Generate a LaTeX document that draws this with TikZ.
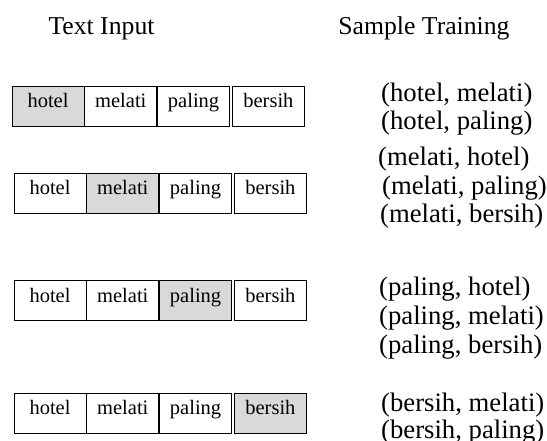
\documentclass[tikz,border=0pt]{standalone}
\usepackage{fontspec}
\setmainfont{Liberation Serif}
\usepackage{tikz}
\usetikzlibrary{positioning}
\newcommand{\wordfont}{\fontsize{20.5}{24}\selectfont}
\newcommand{\pairfont}{\fontsize{26.7}{28.5}\selectfont}
\newcommand{\headfont}{\fontsize{25.7}{28}\selectfont}

\begin{document}
\begin{tikzpicture}[x=1pt, y=-1pt]
\tikzstyle{word}=[rectangle, draw=black, line width=0.8pt, minimum width=72pt, minimum height=40pt, inner sep=0pt, text height=14pt, text depth=11pt, font=\wordfont]
\tikzstyle{focus}=[word, fill=black!15]
\tikzstyle{pair}=[anchor=base west, inner sep=0pt, font=\pairfont]
\tikzstyle{head}=[anchor=base, inner sep=0pt, font=\headfont]

  \useasboundingbox (0,0) rectangle (547,441);

  \node[head] (hin)  at (101.5,35) {Text Input};
  \node[head] (hout) at (424,35)   {Sample Training};

  % row 1
  \node[focus] (w11) at (48,106)      {hotel};
  \node[word]  (w12) [right=0pt of w11] {melati};
  \node[word]  (w13) [right=0pt of w12] {paling};
  \node[word]  (w14) [right=2pt of w13] {bersih};
  \node[pair] (p11) at (381,102) {(hotel, melati)};
  \node[pair] (p12) at (381,130) {(hotel, paling)};

  % row 2
  \node[word]  (w21) at (50,193)      {hotel};
  \node[focus] (w22) [right=0pt of w21] {melati};
  \node[word]  (w23) [right=0pt of w22] {paling};
  \node[word]  (w24) [right=2pt of w23] {bersih};
  \node[pair] (p21) at (378,166) {(melati, hotel)};
  \node[pair] (p22) at (382,195) {(melati, paling)};
  \node[pair] (p23) at (380,223) {(melati, bersih)};

  % row 3
  \node[word]  (w31) at (50,300.5)    {hotel};
  \node[word]  (w32) [right=0pt of w31] {melati};
  \node[focus] (w33) [right=0pt of w32] {paling};
  \node[word]  (w34) [right=2pt of w33] {bersih};
  \node[pair] (p31) at (379,296) {(paling, hotel)};
  \node[pair] (p32) at (379,324) {(paling, melati)};
  \node[pair] (p33) at (379,353) {(paling, bersih)};

  % row 4
  \node[word]  (w41) at (50,413)      {hotel};
  \node[word]  (w42) [right=0pt of w41] {melati};
  \node[word]  (w43) [right=0pt of w42] {paling};
  \node[focus] (w44) [right=2pt of w43] {bersih};
  \node[pair] (p41) at (381,411.5) {(bersih, melati)};
  \node[pair] (p42) at (381,438) {(bersih, paling)};

\end{tikzpicture}
\end{document}
